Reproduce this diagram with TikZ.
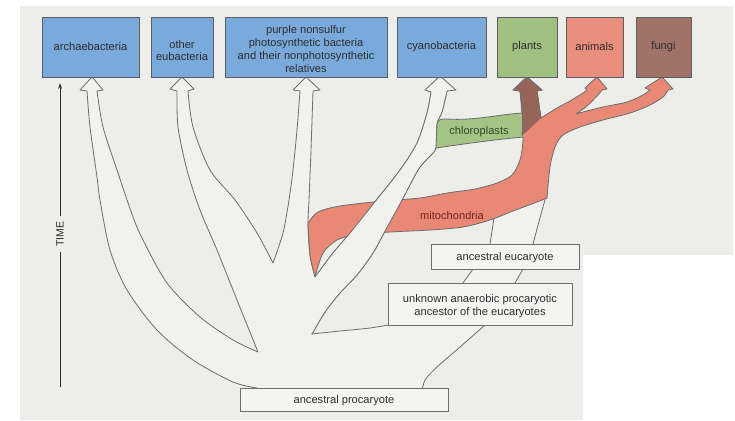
\documentclass[tikz,border=0pt]{standalone}
\usepackage{fontspec}
\setmainfont{Liberation Sans}
\usetikzlibrary{fit,arrows.meta}
\definecolor{bg}{RGB}{237,237,234}
\definecolor{treefill}{RGB}{241,241,238}
\definecolor{boxblue}{RGB}{122,170,220}
\definecolor{plantgreen}{RGB}{160,192,130}
\definecolor{animalred}{RGB}{233,142,124}
\definecolor{fungibrown}{RGB}{160,114,104}
\definecolor{chlorogreen}{RGB}{163,196,133}
\definecolor{mitored}{RGB}{233,137,117}
\definecolor{plantbrown}{RGB}{150,100,88}
\definecolor{edgegray}{RGB}{110,110,110}
\definecolor{boxedge}{RGB}{90,95,100}
\definecolor{lowfill}{RGB}{244,244,242}
\definecolor{txt}{RGB}{45,45,45}
\definecolor{chlorotxt}{RGB}{50,70,40}
\definecolor{mitotxt}{RGB}{115,35,35}
\newcommand{\boxfont}{\fontsize{9.5}{11}\selectfont}
\begin{document}
\begin{tikzpicture}[x=0.03cm,y=-0.03cm,
  shapeline/.style={draw=edgegray, line width=0.7pt, line join=round},
  topbox/.style={draw=boxedge, line width=0.6pt, inner sep=0pt},
  lowbox/.style={draw=edgegray, fill=lowfill, line width=0.6pt, inner sep=0pt},
  boxtext/.style={align=center, text=txt, font=\boxfont, inner sep=0pt},
  bandlabel/.style={font=\boxfont, inner sep=1pt}]

% background
\fill[white] (0,0) rectangle (735,420);
\fill[bg] (20,6) -- (733,6) -- (733,255) -- (583,255) -- (583,420) -- (20,420) -- cycle;
\useasboundingbox (0,0) rectangle (735,420);

% prokaryote tree
\filldraw[draw=edgegray, line width=0.7pt, line join=round, fill=treefill]
  plot[smooth] coordinates {(257,388) (233,382) (193,360) (157,330) (127,290) (110,250) (100,200) (97,177) (90,127) (87,91)}
  -- (80,90) -- (92,77) -- (103,90) -- (97,91)
  -- plot[smooth] coordinates {(97,91) (103,127) (117,170) (133,217) (143,240) (167,283) (200,317) (233,340) (258,352)}
  -- plot[smooth] coordinates {(258,352) (237,300) (217,250) (200,210) (187,170) (178,127) (177,91)}
  -- (170,89) -- (182,77) -- (194,89) -- (188,91)
  -- plot[smooth] coordinates {(188,91) (193,127) (210,170) (235,200) (257,233) (273,263)}
  -- plot[smooth] coordinates {(273,263) (283,233) (289,200) (293,170) (297,130) (300,91)}
  -- (293,90) -- (306,77) -- (320,90) -- (313,91)
  -- plot[smooth] coordinates {(313,91) (311,150) (309,200) (308,225) (310,255) (315,277)}
  -- plot[smooth] coordinates {(315,277) (333,253) (350,233) (374,203) (400,170) (417,143) (427,113) (431,92)}
  -- (425,90) -- (440,76) -- (456,90) -- (447,91)
  -- plot[smooth] coordinates {(447,91) (442,112) (437,124) (436,148) (428,158) (418,170) (401,202) (384,233) (373,253) (357,275) (340,293) (325,312) (312,334)}
  -- plot[smooth] coordinates {(312,334) (340,331) (370,328) (400,323)}
  -- (480,320) -- (485,325)
  -- plot[smooth] coordinates {(485,325) (460,347) (437,367) (425,380) (422,392)}
  -- (257,392) -- cycle;

% eukaryote stem (below the coloured part)
\fill[treefill] (462,286) -- (474,266) -- (489,246) -- (494,216) -- (547,196) -- (533,246) -- (523,268) -- (515,286) -- cycle;
\draw[shapeline] (463,283) -- (473,269);
\draw[shapeline] (515,283) -- (523,269);
\draw[shapeline] (490,244) -- (494,218);
\draw[shapeline] (533,244) .. controls (538,225) .. (546,196);

% mitochondria + eukaryote lineages (salmon)
\filldraw[draw=edgegray, line width=0.7pt, line join=round, fill=mitored]
  plot[smooth] coordinates {(308,223) (318,212) (340,206) (383,201) (420,198) (447,193) (475,189) (497,183) (512,175) (520,160) (523,140) (522,115) (520,91)}
  -- (513,90) -- (527,77) -- (542,90) -- (537,91)
  -- plot[smooth] coordinates {(537,91) (539,105) (541,118)}
  -- plot[smooth] coordinates {(541,118) (557,108) (570,101) (583,93) (587,90)}
  -- (585,88) -- (597,77) -- (607,89) -- (602,90)
  -- plot[smooth] coordinates {(602,90) (597,96) (587,106) (576,114)}
  -- plot[smooth] coordinates {(576,114) (583,112) (603,107) (627,102) (643,95) (650,90)}
  -- (645,88) -- (662,77) -- (673,89) -- (668,90)
  -- plot[smooth] coordinates {(668,90) (663,97) (650,105) (630,113) (603,120) (580,127) (563,135) (555,147) (550,167) (547,198)}
  -- plot[smooth] coordinates {(547,198) (537,202) (513,211) (490,220) (463,227) (430,230) (390,232) (353,235)}
  -- plot[smooth] coordinates {(353,235) (337,240) (323,253) (315,277)}
  -- plot[smooth] coordinates {(315,277) (310,255) (308,223)}
  -- cycle;

% cyanobacteria branch passes over the mitochondria band
\fill[treefill]
  plot[smooth] coordinates {(315,277) (333,253) (350,233) (374,203) (400,170) (417,143) (427,113) (431,92)}
  -- (447,91)
  -- plot[smooth] coordinates {(447,91) (442,112) (437,124) (436,148) (428,158) (418,170) (401,202) (384,233) (373,253) (357,275) (340,293) (325,312) (312,334)}
  -- cycle;
\draw[shapeline] plot[smooth] coordinates {(315,277) (333,253) (350,233) (374,203) (400,170) (417,143) (427,113) (431,92)};
\draw[shapeline] plot[smooth] coordinates {(447,91) (442,112) (437,124) (436,148) (428,158) (418,170) (401,202) (384,233) (373,253) (357,275) (340,293) (325,312) (312,334)};

% chloroplasts band
\fill[chlorogreen] (436,148) -- (437,124) .. controls (438,119) and (441,119) .. (447,119)
  .. controls (475,121) and (500,114) .. (524,113) -- (524,137)
  .. controls (500,139) and (470,143) .. (436,148) -- cycle;
\draw[shapeline] (524,113) .. controls (500,114) and (475,121) .. (447,119)
  .. controls (441,119) and (438,119) .. (437,124) -- (436,148);
\draw[shapeline] (524,137) .. controls (500,139) and (470,143) .. (436,148);

% plants arrow (chloroplast + mitochondria mix)
\fill[plantbrown] (520,91) -- (513,90) -- (527,77) -- (542,90) -- (537,91)
  .. controls (539,105) .. (541,118) -- (522,136) .. controls (523,115) .. (520,91) -- cycle;
\draw[shapeline] (522,136) .. controls (523,115) .. (520,91) -- (513,90) -- (527,77) -- (542,90) -- (537,91)
  .. controls (539,105) .. (541,118);

% band labels
\node[bandlabel, text=chlorotxt] (chlorolbl) at (479,132) {chloroplasts};
\node[bandlabel, text=mitotxt] (mitolbl) at (452,216) {mitochondria};

% lower boxes
\node[lowbox, fit={(240,388) (448,411)}] (procar) {};
\node[lowbox, fit={(388,283) (572,325)}] (unknown) {};
\node[lowbox, fit={(431,244) (579,269)}] (eucar) {};
\node[boxtext, yshift=-1pt] (procarT) at (procar.center) {ancestral procaryote};
\node[boxtext, yshift=-1.5pt] (unknownT) at (unknown.center) {unknown anaerobic procaryotic\\ancestor of the eucaryotes};
\node[boxtext, yshift=-1pt] (eucarT) at (eucar.center) {ancestral eucaryote};

% top boxes
\node[topbox, fill=boxblue, fit={(42,17) (139,77)}] (arch) {};
\node[topbox, fill=boxblue, fit={(151,17) (213,77)}] (eub) {};
\node[topbox, fill=boxblue, fit={(225,17) (387,77)}] (purple) {};
\node[topbox, fill=boxblue, fit={(397,17) (486,77)}] (cyano) {};
\node[topbox, fill=plantgreen, fit={(497,17) (557,77)}] (plants) {};
\node[topbox, fill=animalred, fit={(566,17) (623,77)}] (animals) {};
\node[topbox, fill=fungibrown, fit={(636,17) (691,77)}] (fungi) {};
\node[boxtext] (archT) at (arch.center) {archaebacteria};
\node[boxtext, yshift=-3pt] (eubT) at (eub.center) {other\\eubacteria};
\node[boxtext, yshift=-2pt] (purpleT) at (purple.center) {purple nonsulfur\\photosynthetic bacteria\\and their nonphotosynthetic\\relatives};
\node[boxtext] (cyanoT) at (cyano.center) {cyanobacteria};
\node[boxtext] (plantsT) at (plants.center) {plants};
\node[boxtext] (animalsT) at (animals.center) {animals};
\node[boxtext] (fungiT) at (fungi.center) {fungi};

% time axis
\coordinate (tbot) at (60,387);
\coordinate (ttop) at (60,83);
\node[rotate=90, font=\fontsize{9}{10}\selectfont, text=txt, inner xsep=4pt, inner ysep=1pt] (timelbl) at (60,234) {TIME};
\draw[line width=0.6pt, draw=txt] (tbot) -- (timelbl.west);
\draw[line width=0.6pt, draw=txt, -{Stealth[length=5pt,width=3.2pt]}] (timelbl.east) -- (ttop);
\end{tikzpicture}
\end{document}
